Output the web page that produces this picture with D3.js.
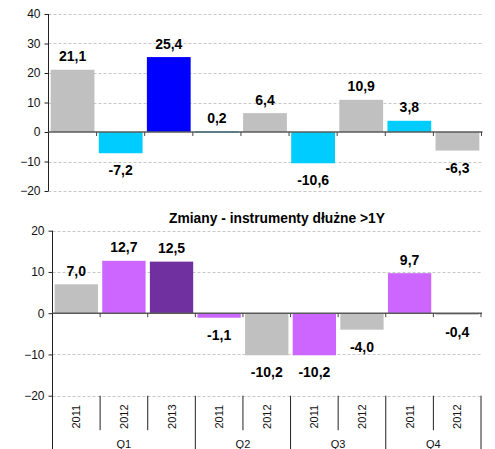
<!DOCTYPE html>
<html>
<head>
<meta charset="utf-8">
<script src="https://cdn.jsdelivr.net/npm/d3@7"></script>
<style>
  html, body { margin: 0; padding: 0; background: #fff; }
  svg { display: block; font-family: "Liberation Sans", Arial, sans-serif; }
</style>
</head>
<body>
<svg id="chart" width="495" height="449"></svg>
<script>
// ---------------- data ----------------
const quarters = ["Q1", "Q2", "Q3", "Q4"];
const quarterYears = [["2011", "2012", "2013"], ["2011", "2012"], ["2011", "2012"], ["2011", "2012"]];
const equityValues = [21.1, -7.2, 25.4, 0.2, 6.4, -10.6, 10.9, 3.8, -6.3];
const debtValues = [7.0, 12.7, 12.5, -1.1, -10.2, -10.2, -4.0, 9.7, -0.4];
const equityTicks = [-20, -10, 0, 10, 20, 30, 40];
const debtTicks = [-20, -10, 0, 10, 20];
const debtTitle = "Zmiany - instrumenty dłużne >1Y";

// ---------------- styles ----------------
const equityColors = ["#C0C0C0", "#00CCFF", "#0000FF", "#00CCFF", "#C0C0C0", "#00CCFF", "#C0C0C0", "#00CCFF", "#C0C0C0"];
const debtColors = ["#C0C0C0", "#CC66FF", "#7030A0", "#CC66FF", "#C0C0C0", "#CC66FF", "#C0C0C0", "#CC66FF", "#C0C0C0"];

// flatten categories
const categories = [];
quarters.forEach((q, qi) => quarterYears[qi].forEach(y => categories.push({ q, qi, y })));
const idx = categories.map((d, i) => i);

const svg = d3.select("#chart");
const fmt = v => d3.format(".1f")(v).replace(".", ",").replace("−", "-");

function drawPanel(cfg) {
  const g = svg.append("g");
  const x = d3.scaleBand().domain(idx).range([cfg.x0, cfg.x1]).paddingInner(0.09).paddingOuter(0.045);
  const y = d3.scaleLinear().domain(cfg.domain).range([cfg.yBottom, cfg.yTop]);
  const step = x.step();
  const boundary = i => cfg.x0 + i * step;

  // gridlines
  g.append("g").selectAll("line").data(cfg.ticks.filter(t => t !== 0)).join("line")
    .attr("x1", cfg.x0).attr("x2", cfg.x1)
    .attr("y1", d => Math.round(y(d)) + 0.5).attr("y2", d => Math.round(y(d)) + 0.5)
    .attr("stroke", "#c8c8c8").attr("stroke-width", 1).attr("stroke-dasharray", "3,2");

  // bars
  g.append("g").selectAll("rect").data(cfg.values).join("rect")
    .attr("x", (d, i) => x(i))
    .attr("width", x.bandwidth())
    .attr("y", d => Math.min(y(d), y(0)))
    .attr("height", d => Math.max(1.2, Math.abs(y(d) - y(0))))
    .attr("fill", (d, i) => cfg.colors[i]);

  // y axis
  const ax = d3.axisLeft(y).tickValues(cfg.ticks).tickSize(4).tickSizeOuter(0).tickPadding(4);
  const axg = g.append("g").attr("transform", `translate(${cfg.x0},0)`).call(ax);
  axg.select(".domain").remove();
  axg.selectAll(".tick line").attr("stroke", "#222");
  axg.selectAll(".tick text").attr("font-size", 12).attr("fill", "#111")
    .attr("font-family", '"Liberation Sans", Arial, sans-serif');
  g.append("line").attr("x1", cfg.x0).attr("x2", cfg.x0)
    .attr("y1", y(cfg.domain[1])).attr("y2", cfg.axisEnd)
    .attr("stroke", "#222").attr("stroke-width", 1);

  // zero line + category ticks
  g.append("line").attr("x1", cfg.x0).attr("x2", cfg.x1 + 1)
    .attr("y1", y(0)).attr("y2", y(0))
    .attr("stroke", "#5a5a5a").attr("stroke-width", 1.6);
  g.append("g").selectAll("line").data(d3.range(1, idx.length + 1)).join("line")
    .attr("x1", i => boundary(i)).attr("x2", i => boundary(i))
    .attr("y1", y(0)).attr("y2", y(0) + 4)
    .attr("stroke", "#444").attr("stroke-width", 1);

  // value labels
  g.append("g").selectAll("text").data(cfg.values).join("text")
    .attr("x", (d, i) => x(i) + x.bandwidth() / 2)
    .attr("y", d => d >= 0 ? y(d) - 8.5 : y(d) + 22)
    .attr("text-anchor", "middle")
    .attr("font-size", 14).attr("font-weight", "bold").attr("fill", "#000")
    .text(d => fmt(d));

  return { g, x, y, boundary };
}

// ---- top panel ----
drawPanel({
  x0: 48.5, x1: 481.5, yTop: 14, yBottom: 191, domain: [-20, 40],
  ticks: equityTicks, values: equityValues, colors: equityColors, axisEnd: 191
});

// ---- bottom panel ----
const bot = drawPanel({
  x0: 52.5, x1: 481, yTop: 230.7, yBottom: 395.7, domain: [-20, 20],
  ticks: debtTicks, values: debtValues, colors: debtColors, axisEnd: 449
});

// title
svg.append("text").attr("x", 277).attr("y", 223)
  .attr("text-anchor", "middle").attr("font-size", 13.8).attr("font-weight", "bold").attr("fill", "#000")
  .text(debtTitle);

// multi-level category axis (bottom panel)
const catY = bot.y(-20);
const groupStarts = [];
let acc = 0;
quarterYears.forEach(ys => { groupStarts.push(acc); acc += ys.length; });
const groupEnds = groupStarts.map((s, i) => s + quarterYears[i].length);

const cat = svg.append("g");
cat.selectAll("text.yr").data(categories).join("text").attr("class", "yr")
  .attr("transform", (d, i) => `translate(${bot.x(i) + bot.x.bandwidth() / 2 + 4},${catY + 21}) rotate(-90)`)
  .attr("text-anchor", "middle")
  .attr("font-size", 11).attr("fill", "#111")
  .text(d => d.y);

// separators
cat.selectAll("line.sep").data(d3.range(1, idx.length + 1)).join("line").attr("class", "sep")
  .attr("x1", i => bot.boundary(i)).attr("x2", i => bot.boundary(i))
  .attr("y1", catY)
  .attr("y2", i => groupEnds.includes(i) ? 449 : catY + 34.5)
  .attr("stroke", "#222").attr("stroke-width", 1);

cat.selectAll("text.q").data(quarters).join("text").attr("class", "q")
  .attr("x", (q, qi) => (bot.boundary(groupStarts[qi]) + bot.boundary(groupEnds[qi])) / 2)
  .attr("y", 447.5)
  .attr("text-anchor", "middle")
  .attr("font-size", 11).attr("fill", "#111")
  .text(d => d);
</script>
</body>
</html>
